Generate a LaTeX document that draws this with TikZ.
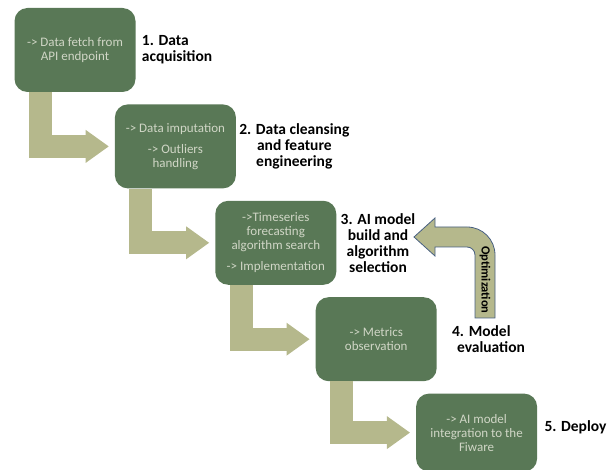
\documentclass[tikz,border=0pt]{standalone}
\usepackage{fontspec}
\setmainfont{Carlito}
\usetikzlibrary{arrows.meta,positioning}

\definecolor{stagegreen}{RGB}{89,120,86}
\definecolor{stagetext}{RGB}{208,214,198}
\definecolor{flowolive}{RGB}{181,184,140}
\definecolor{loopedge}{RGB}{72,96,130}

\begin{document}
\begin{tikzpicture}[
    x=1pt, y=-1pt,
    node distance=12pt and -21pt,
    % process stages (dark green boxes)
    stage/.style={rectangle, rounded corners=13pt, fill=stagegreen, text=stagetext,
        minimum width=121pt, minimum height=84pt, inner sep=2pt, align=center,
        font=\fontsize{13}{14}\selectfont},
    % stage titles
    phase/.style={font=\fontsize{15.5}{16}\selectfont\bfseries, inner sep=0pt},
    % bent block arrows between stages
    flow/.style={draw=flowolive, line width=23pt,
        -{Triangle[width=33pt, length=23pt, line width=0pt]}}
]
    \useasboundingbox (0,0) rectangle (611,470);

    % Stages, stepping down to the right
    \node[stage] (b1) at (75,50) {-> Data fetch from\\API endpoint};
    \node[stage, below right=of b1] (b2) {-> Data imputation\\[7pt]-> Outliers\\handling};
    \node[stage, below right=of b2] (b3) {->Timeseries\\forecasting\\algorithm search\\[7pt]-> Implementation};
    \node[stage, below right=of b3] (b4) {-> Metrics\\observation};
    \node[stage, below right=of b4, minimum height=78pt] (b5) {-> AI model\\integration to the\\Fiware};

    % Titles beside the stages
    \node[phase, right=6pt of b1, align=left] (l1) {1. Data\\acquisition};
    \node[phase, right=3pt of b2, align=center] (l2) {2. Data cleansing\\and feature\\engineering};
    \node[phase, right=4pt of b3, align=center] (l3) {3. AI model\\build and\\algorithm\\selection};
    \node[phase, right=15pt of b4, align=left] (l4) {4. Model\\\hspace*{5pt}evaluation};
    \node[phase, right=7pt of b5, yshift=5pt] (l5) {5. Deploy};

    % Flow from one stage to the next
    \draw[flow] ([xshift=26pt]b1.south west) |- ([xshift=-6pt]b2.west);
    \draw[flow] ([xshift=26pt]b2.south west) |- ([xshift=-6pt]b3.west);
    \draw[flow] ([xshift=26pt]b3.south west) |- ([xshift=-6pt]b4.west);
    \draw[flow] ([xshift=26pt]b4.south west) |- ([xshift=-6pt]b5.west);

    % Optimization loop back from evaluation to model building
    \draw[loopedge, fill=flowolive, line width=0.8pt]
        (495,318) -- (495,255) .. controls (495,239.5) and (482.5,227) .. (467,227)
        -- (435,227) -- (435,218) -- (414,237) -- (435,256) -- (435,247) -- (467,247)
        .. controls (471.4,247) and (475,250.6) .. (475,255) -- (475,318) -- cycle;
    \node[rotate=-90, font=\fontsize{12.5}{13}\selectfont\bfseries] (opt) at (485,280) {Optimization};
\end{tikzpicture}
\end{document}
